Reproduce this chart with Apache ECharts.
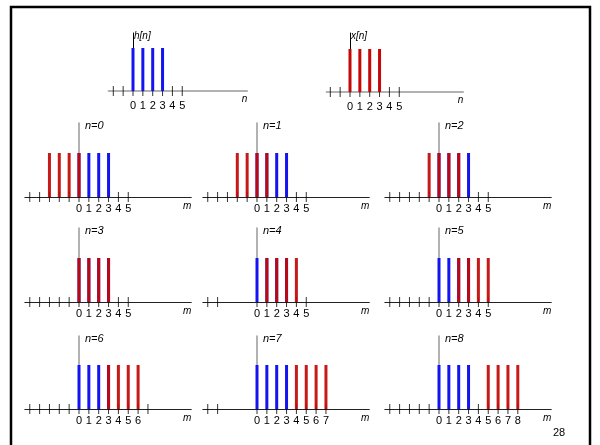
<!DOCTYPE html>
<html>
<head>
<meta charset="utf-8">
<script src="https://cdn.jsdelivr.net/npm/echarts@6/dist/echarts.min.js"></script>
<style>html,body{margin:0;padding:0;background:#fff}#c{width:600px;height:445px}</style>
</head>
<body>
<div id="c"></div>
<script>
// ---- data ----
const hValues = [1, 1, 1, 1];          // h[n], n = 0..3
const xValues = [1, 1, 1, 1];          // x[n], n = 0..3
const shifts = [0, 1, 2, 3, 4, 5, 6, 7, 8];
const topTicks = [-2, -1, 0, 1, 2, 3, 4, 5];
const topLabels = [0, 1, 2, 3, 4, 5];
const panelTicks = [
  [-5,-4,-3,-2,-1,0,1,2,3,4,5],
  [-5,-4,-3,-2,-1,0,1,2,3,4,5],
  [-5,-4,-3,-2,-1,0,1,2,3,4,5],
  [-5,-4,-3,-2,-1,0,1,2,3,4,5],
  [-5,-4,0,1,2,3,4,5],
  [-5,-4,-3,-2,-1,0,1,2,3,4,5],
  [-5,-4,-3,-2,-1,0,1,2,3,4,5,6,7],
  [-5,-4,0,1,2,3,4,5,6,7],
  [-5,-4,-3,-2,-1,0,1,2,3,4,5,6,7,8]
];
const panelLabels = [
  [0,1,2,3,4,5],[0,1,2,3,4,5],[0,1,2,3,4,5],
  [0,1,2,3,4,5],[0,1,2,3,4,5],[0,1,2,3,4,5],
  [0,1,2,3,4,5,6],[0,1,2,3,4,5,6,7],[0,1,2,3,4,5,6,7,8]
];

// ---- layout ----
const S = 9.85;          // px per unit
const BAR_PX = 44;       // px for value 1
const BLUE = '#1414f0', RED = '#c40808';
const colZero = [79, 257, 439];
const rows = [{top: 123, axis: 197}, {top: 228, axis: 302}, {top: 336, axis: 409}];
const FONT = 'Liberation Sans, Arial, sans-serif';

const grid = [], xAxis = [], yAxis = [], series = [];

function addPanel(cfg) {
  const i = grid.length;
  grid.push({left: cfg.zero + cfg.min * S, width: (cfg.max - cfg.min) * S,
             top: cfg.top, height: cfg.axis - cfg.top, containLabel: false});
  xAxis.push({
    gridIndex: i, type: 'value', min: cfg.min, max: cfg.max,
    axisLine: {show: true, onZero: true, lineStyle: {color: cfg.xColor, width: cfg.xWidth}},
    axisTick: {show: false}, splitLine: {show: false},
    axisLabel: {show: true, customValues: cfg.labels, margin: cfg.labelMargin, color: '#000',
                fontSize: 11, fontFamily: FONT},
    name: cfg.xName, nameLocation: 'end', nameGap: 0,
    nameTextStyle: {align: 'right', verticalAlign: 'top', padding: [cfg.namePad, 0, 0, 0],
                    fontStyle: 'italic', fontSize: 10, fontFamily: FONT, color: '#000'}
  });
  yAxis.push({
    gridIndex: i, type: 'value', min: 0, max: (cfg.axis - cfg.top) / cfg.barPx,
    axisLine: {show: true, onZero: true, lineStyle: {color: cfg.yColor, width: cfg.yWidth}},
    axisTick: {show: false}, axisLabel: {show: false}, splitLine: {show: false},
    name: cfg.yName, nameLocation: 'end', nameGap: cfg.yNameGap,
    nameTextStyle: {align: 'left', verticalAlign: 'middle', padding: [0, 0, 0, cfg.yNamePad],
                    fontStyle: 'italic', fontSize: cfg.yNameSize, fontFamily: FONT, color: '#000'}
  });
  series.push({
    type: 'scatter', xAxisIndex: i, yAxisIndex: i, symbol: 'rect', symbolSize: [1, 10],
    itemStyle: {color: '#000'}, z: 1, silent: true, clip: false, animation: false,
    data: cfg.ticks.map(t => [t, 0])
  });
  cfg.bars.forEach((b, k) => {
    series.push({
      type: 'bar', xAxisIndex: i, yAxisIndex: i, barWidth: 3, barGap: '-100%',
      itemStyle: {color: b.color, opacity: b.opacity}, z: 2 + k, silent: true, animation: false,
      data: b.data
    });
  });
}

// top: h[n]
addPanel({zero: 133, min: -2.5, max: 11.6, top: 33, axis: 91, barPx: 43,
  xColor: '#999', xWidth: 1.5, yColor: '#000', yWidth: 1, labels: topLabels, ticks: topTicks,
  labelMargin: 9, xName: 'n', namePad: 3, yName: 'h[n]', yNameGap: -3, yNamePad: 1, yNameSize: 10,
  bars: [{color: BLUE, opacity: 1, data: hValues.map((v, k) => [k, v])}]});
// top: x[n]
addPanel({zero: 350, min: -2.4, max: 11.5, top: 33, axis: 92, barPx: 43,
  xColor: '#999', xWidth: 1.5, yColor: '#000', yWidth: 1, labels: topLabels, ticks: topTicks,
  labelMargin: 9, xName: 'n', namePad: 3, yName: 'x[n]', yNameGap: -3, yNamePad: 1, yNameSize: 10,
  bars: [{color: RED, opacity: 1, data: xValues.map((v, k) => [k, v])}]});

shifts.forEach((n, idx) => {
  const r = rows[Math.floor(idx / 3)], z = colZero[idx % 3];
  addPanel({zero: z, min: -5.5, max: 11.4, top: r.top, axis: r.axis, barPx: BAR_PX,
    xColor: '#222', xWidth: 1, yColor: '#999', yWidth: 1.5,
    labels: panelLabels[idx], ticks: panelTicks[idx], labelMargin: 6,
    xName: 'm', namePad: 4, yName: 'n=' + n, yNameGap: -3, yNamePad: 6, yNameSize: 11,
    bars: [
      {color: BLUE, opacity: 1, data: hValues.map((v, k) => [k, v])},
      {color: RED, opacity: 0.93, data: xValues.map((v, k) => [n - k, v])}
    ]});
});

const chart = echarts.init(document.getElementById('c'), null, {renderer: 'canvas'});
chart.setOption({
  backgroundColor: '#fff',
  animation: false,
  grid, xAxis, yAxis, series,
  graphic: [
    {type: 'rect', shape: {x: 11, y: 7, width: 579, height: 442},
     style: {fill: 'none', stroke: '#000', lineWidth: 2.5}, z: 0},
    {type: 'text', left: 553, top: 427,
     style: {text: '28', fontSize: 11, fontFamily: FONT, fill: '#000'}}
  ]
});
</script>
</body>
</html>
